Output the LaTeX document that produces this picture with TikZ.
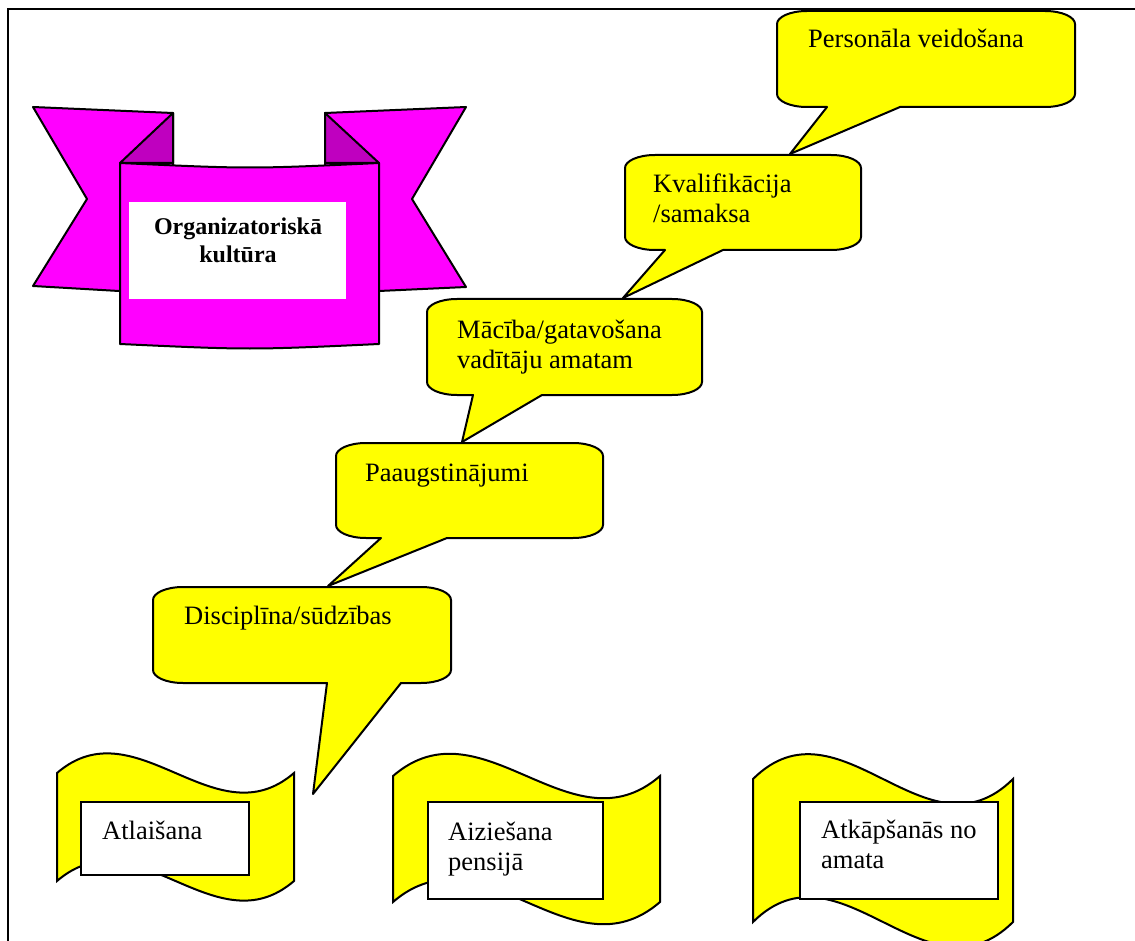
\documentclass[tikz,border=0pt]{standalone}
\usepackage{fontspec}
\setmainfont{Liberation Serif}
\definecolor{myyellow}{rgb}{1,1,0}
\definecolor{mymagenta}{rgb}{1,0,1}
\definecolor{myfold}{rgb}{0.75,0,0.75}
\tikzset{
    bubble/.style={
           fill=myyellow,
           draw=black, line width=2pt,
           line join=round,
           },
    flag/.style={fill=myyellow, draw=black, line width=2pt},
    ribbon/.style={fill=mymagenta, draw=black, line width=2pt, line join=round},
    fold/.style={fill=myfold, draw=black, line width=2pt, line join=round},
    card/.style={fill=white, draw=black, line width=2pt},
    txt/.style={
           anchor=base west,
           inner sep=0pt,
           align=left,
           font=\fontsize{26.5}{30}\selectfont,
           },
    title/.style={
           anchor=base,
           inner sep=0pt,
           align=center,
           font=\bfseries\fontsize{24}{28}\selectfont,
           },
}
% #1 left, #2 top, #3 right, #4 bottom, #5/#6 tail base, #7/#8 tail tip
\newcommand{\Bubble}[8]{%
  \draw[bubble] (#1,{#2+13}) .. controls (#1,{#2+6}) and ({#1+13},#2) .. ({#1+30},#2)
    -- ({#3-30},#2) .. controls ({#3-13},#2) and (#3,{#2+6}) .. (#3,{#2+13})
    -- (#3,{#4-13}) .. controls (#3,{#4-6}) and ({#3-13},#4) .. ({#3-30},#4)
    -- (#6,#4) -- (#7,#8) -- (#5,#4)
    -- ({#1+30},#4) .. controls ({#1+13},#4) and (#1,{#4-6}) .. (#1,{#4-13}) -- cycle;}
% #1 left, #2 top, #3 right, #4 bottom, #5 wave
\newcommand{\Flag}[5]{%
  \draw[flag] (#1,#2) .. controls ({#1+(#3-#1)/3},{#2-#5}) and ({#1+2*(#3-#1)/3},{#2+#5}) .. (#3,#2)
    -- (#3,#4) .. controls ({#1+2*(#3-#1)/3},{#4+#5}) and ({#1+(#3-#1)/3},{#4-#5}) .. (#1,#4) -- cycle;}

\begin{document}
\begin{tikzpicture}[x=1pt, y=-1pt]
  \useasboundingbox (0,0) rectangle (1135,941);
  \clip (0,0) rectangle (1135,941);
  \draw[line width=1.2pt] (8,960) -- (8,9) -- (1150,9);

  \draw[ribbon] (33,107) -- (173,113) -- (173,291) -- (119,291) -- (33,286) -- (87,199) -- cycle;
  \draw[ribbon] (466,107) -- (325,113) -- (325,291) -- (379,291) -- (466,287) -- (412,199) -- cycle;
  \draw[fold] (173,113) -- (120,163) -- (173,163) -- cycle;
  \draw[fold] (325,113) -- (379,163) -- (325,163) -- cycle;
  \draw[ribbon] (120,163) .. controls (250,169) .. (379,163) -- (379,344) .. controls (250,350) .. (120,344) -- cycle;
  \fill[white] (129,202) rectangle (346,299);
  \node[title] (org) at (238,263) {Organizatoriskā\\kultūra};

  \Bubble{777}{11}{1075}{107}{827}{900}{790}{154}
  \Bubble{625}{155}{861}{250}{665}{723}{623}{298}
  \Bubble{427}{299}{702}{395}{473}{542}{462}{442}
  \Bubble{336}{443}{603}{538}{381}{447}{328}{586}
  \Bubble{153}{587}{451}{683}{327}{401}{313}{794}
  \node[txt] (staff)   at (808,48)  {Personāla veidošana};
  \node[txt] (qualif)  at (653,223) {Kvalifikācija\\/samaksa};
  \node[txt] (train)   at (457,368) {Mācība/gatavošana\\vadītāju amatam};
  \node[txt] (promo)   at (365,481) {Paaugstinājumi};
  \node[txt] (discip)  at (184,624) {Disciplīna/sūdzības};

  \Flag{57}{773}{294}{881}{68}
  \Flag{393}{776}{660}{902}{77}
  \Flag{753}{779}{1013}{922}{86}
  \draw[card] (81,802) rectangle (249,875);
  \draw[card] (428,802) rectangle (603,899);
  \draw[card] (800,802) rectangle (998,899);
  \node[txt] (dismiss) at (102,839) {Atlaišana};
  \node[txt] (retire)  at (448,870) {Aiziešana\\pensijā};
  \node[txt] (resign)  at (821,868) {Atkāpšanās no\\amata};
\end{tikzpicture}
\end{document}
